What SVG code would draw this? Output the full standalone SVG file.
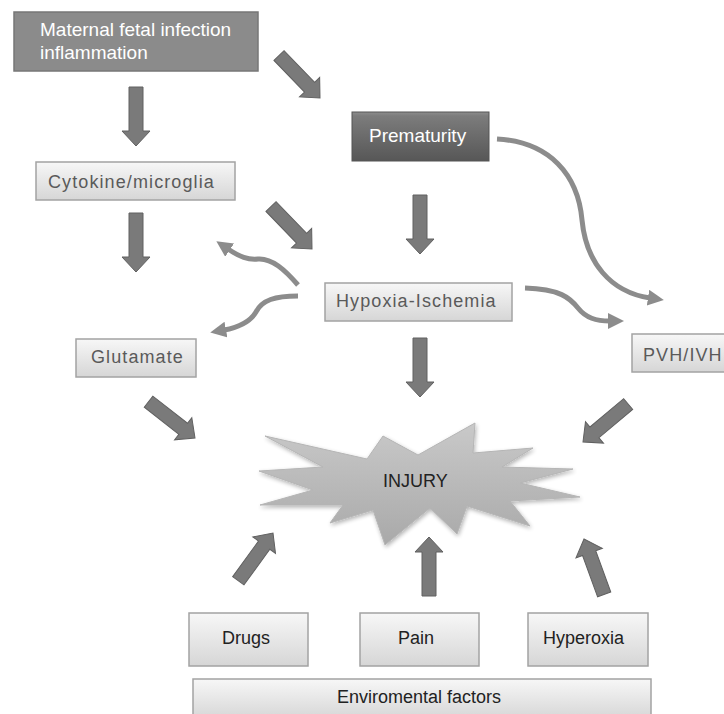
<svg xmlns="http://www.w3.org/2000/svg" xmlns:xlink="http://www.w3.org/1999/xlink" width="724" height="714" viewBox="0 0 724 714">
<defs>
<linearGradient id="gLight" x1="0" y1="0" x2="0" y2="1">
<stop offset="0" stop-color="#f7f7f7"/>
<stop offset="1" stop-color="#d6d6d6"/>
</linearGradient>
<linearGradient id="gPrem" x1="0" y1="0" x2="0" y2="1">
<stop offset="0" stop-color="#8e8e8e"/>
<stop offset="0.08" stop-color="#7c7c7c"/>
<stop offset="1" stop-color="#575757"/>
</linearGradient>
<linearGradient id="gStar" x1="0" y1="0" x2="0" y2="1">
<stop offset="0" stop-color="#c9c9c9"/>
<stop offset="1" stop-color="#a9a9a9"/>
</linearGradient>
<path id="ba" d="M-7,-59 H7 V-15 H14 L0,0 L-14,-15 H-7 Z"/>
<marker id="ah" markerUnits="userSpaceOnUse" markerWidth="20" markerHeight="20" refX="2" refY="8" orient="auto">
<path d="M0,0 L16,8 L0,16 Z" fill="#8c8c8c"/>
</marker>
<filter id="sh" x="-10%" y="-10%" width="120%" height="130%">
<feGaussianBlur in="SourceAlpha" stdDeviation="2"/>
<feOffset dx="1" dy="2" result="b"/>
<feComponentTransfer><feFuncA type="linear" slope="0.3"/></feComponentTransfer>
<feMerge><feMergeNode/><feMergeNode in="SourceGraphic"/></feMerge>
</filter>
</defs>
<style>
.light{fill:url(#gLight);stroke:#a3a3a3;stroke-width:1.5}
.t{font-family:"Liberation Sans",Arial,sans-serif;font-size:18px}
.tg{fill:#5a5a5a;letter-spacing:1.1px}
.tw{fill:#ffffff;font-size:19px}
.tb{fill:#222222}
.blk{fill:#7a7a7a;stroke:#606060;stroke-width:1}
.cur{fill:none;stroke:#8c8c8c;stroke-width:5;marker-end:url(#ah)}
</style>
<rect width="724" height="714" fill="#ffffff"/>

<g id="maternal">
<rect x="14" y="12" width="244" height="59" fill="#8b8b8b" stroke="#777777" stroke-width="1.5"/>
<text class="t tw" x="40" y="36">Maternal fetal infection</text>
<text class="t tw" x="40" y="59">inflammation</text>
</g>
<g id="prematurity">
<rect x="352" y="112" width="137" height="49" fill="url(#gPrem)" stroke="#555555" stroke-width="1"/>
<text class="t tw" x="369" y="142">Prematurity</text>
</g>
<g id="cytokine">
<rect class="light" x="36" y="162" width="199" height="38"/>
<text class="t tg" x="48" y="188">Cytokine/microglia</text>
</g>
<g id="hypoxia">
<rect class="light" x="325" y="283" width="187" height="38"/>
<text class="t tg" x="336" y="307">Hypoxia-Ischemia</text>
</g>
<g id="glutamate">
<rect class="light" x="76" y="339" width="120" height="38"/>
<text class="t tg" x="91" y="363">Glutamate</text>
</g>
<g id="pvh">
<rect class="light" x="632" y="334" width="95" height="38"/>
<text class="t tg" x="643" y="361">PVH/IVH</text>
</g>
<g id="injury">
<polygon filter="url(#sh)" fill="url(#gStar)" stroke="#b5b5b5" stroke-width="1" points="265,436 367,459 383,436 418,455 475,423 473,453 533,448 502,467 573,469 520,483 580,497 510,501 530,526 467,506 457,534 430,508 385,545 373,510 330,523 343,505 260,505 313,490 259,471 323,467"/>
<text class="t tb" x="383" y="487">INJURY</text>
</g>
<g id="drugs">
<rect class="light" x="189" y="613" width="119" height="53"/>
<text class="t tb" x="222" y="644">Drugs</text>
</g>
<g id="pain">
<rect class="light" x="360" y="613" width="119" height="53"/>
<text class="t tb" x="398" y="644">Pain</text>
</g>
<g id="hyperoxia">
<rect class="light" x="528" y="613" width="120" height="53"/>
<text class="t tb" x="543" y="644">Hyperoxia</text>
</g>
<g id="environmental">
<rect class="light" x="193" y="679" width="458" height="40"/>
<text class="t tb" x="337" y="703">Enviromental factors</text>
</g>

<g id="connectors">
<use xlink:href="#ba" class="blk" transform="translate(136,146)"/>
<use xlink:href="#ba" class="blk" transform="translate(136,272)"/>
<use xlink:href="#ba" class="blk" transform="translate(420,254)"/>
<use xlink:href="#ba" class="blk" transform="translate(420,397)"/>
<use xlink:href="#ba" class="blk" transform="translate(429,537) rotate(180)"/>
<use xlink:href="#ba" class="blk" transform="translate(320,98) rotate(-44)"/>
<use xlink:href="#ba" class="blk" transform="translate(312,249) rotate(-44)"/>
<use xlink:href="#ba" class="blk" transform="translate(195,438) rotate(-52)"/>
<use xlink:href="#ba" class="blk" transform="translate(583,442) rotate(50)"/>
<use xlink:href="#ba" class="blk" transform="translate(273,533) rotate(-144)"/>
<use xlink:href="#ba" class="blk" transform="translate(584,539) rotate(160)"/>
<path class="cur" d="M497,139 C550,142 578,175 582,220 C586,262 610,292 650,298"/>
<path class="cur" d="M525,288 C560,289 570,298 578,308 C586,318 596,321 610,321"/>
<path class="cur" d="M298,285 C285,270 272,258 258,259 C248,260 240,257 228,249"/>
<path class="cur" d="M298,296 C275,296 262,300 256,312 C250,322 240,327 224,330"/>
</g>
</svg>
